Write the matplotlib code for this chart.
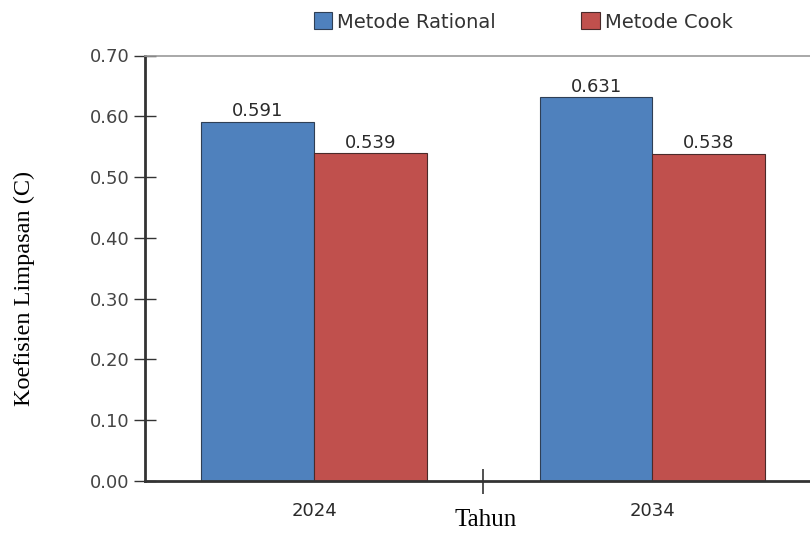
import matplotlib
matplotlib.use('Agg')
import matplotlib.pyplot as plt
import numpy as np

# data
tahun = ['2024', '2034']
rational = [0.591, 0.631]
cook = [0.539, 0.538]
yticks = [0.0, 0.1, 0.2, 0.3, 0.4, 0.5, 0.6, 0.7]

fig = plt.figure(figsize=(8.1, 5.33), dpi=100)
ax = fig.add_axes([145/810, 1-481/533, (821.5-145)/810, (481-55.5)/533])

x = np.arange(len(tahun))
w = 1/3
b1 = ax.bar(x - w/2, rational, w, color='#4F81BD', edgecolor='#2f3f55', linewidth=0.8, label='Metode Rational')
b2 = ax.bar(x + w/2, cook, w, color='#C0504D', edgecolor='#4a2a2a', linewidth=0.8, label='Metode Cook')

for bars, vals in [(b1, rational), (b2, cook)]:
    for r, v in zip(bars, vals):
        ax.text(r.get_x() + r.get_width()/2, v + 0.003, '%.3f' % v,
                ha='center', va='bottom', fontsize=13, color='#2a2a2a')

ax.set_xlim(-0.5, 1.5)
ax.set_ylim(0, 0.70)
ax.set_yticks(yticks)
ax.set_yticklabels(['%.2f' % t for t in yticks], fontsize=13, color='#444444')
ax.tick_params(axis='y', direction='inout', length=16, width=1, color='#333333', pad=3)

ax.set_xticks(x)
ax.set_xticklabels(tahun, fontsize=13, color='#2a2a2a')
ax.tick_params(axis='x', which='major', length=0, pad=15)
ax.set_xticks([0.5], minor=True)
ax.tick_params(axis='x', which='minor', direction='inout', length=18, width=1.2, color='#333333')

for s in ['left', 'bottom']:
    ax.spines[s].set_linewidth(2)
    ax.spines[s].set_color('#333333')
ax.spines['top'].set_color('#999999')
ax.spines['top'].set_linewidth(1.2)
ax.spines['right'].set_visible(False)

ax.set_ylabel('Koefisien Limpasan (C)', family='Liberation Serif', fontsize=17.5)
ax.set_xlabel('Tahun', family='Liberation Serif', fontsize=18, va='baseline')
ax.yaxis.set_label_coords(-0.163, (481-288)/425.5)
ax.xaxis.set_label_coords((486-145)/(821.5-145), (481-526)/425.5)

leg = fig.legend(handles=[b1, b2], loc='center', bbox_to_anchor=(523/810, 1-22/533), ncol=2,
                 frameon=False, fontsize=14, handlelength=0.95, handleheight=0.95,
                 handletextpad=0.25, columnspacing=4.4, borderpad=0)
for t in leg.get_texts():
    t.set_color('#333333')

fig.savefig('out.png', dpi=100)
